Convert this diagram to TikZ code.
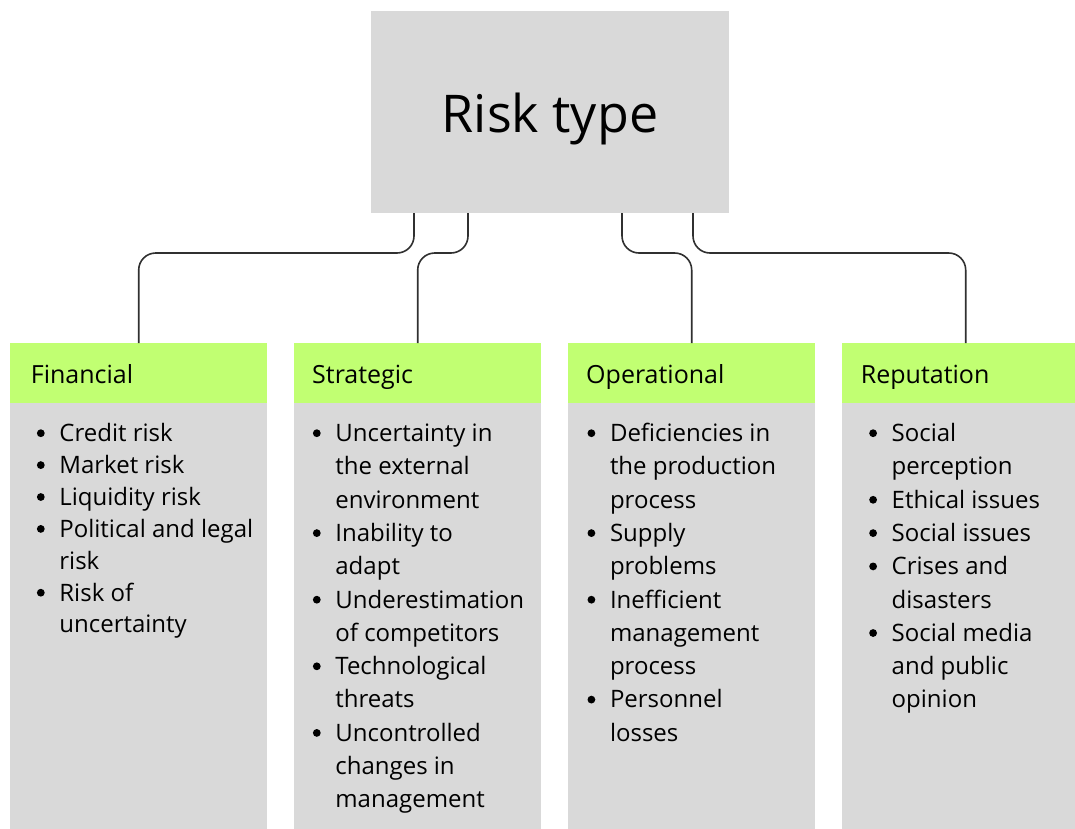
\documentclass[tikz,border=0pt]{standalone}
\usepackage{fontspec}
\setmainfont{Open Sans}
\definecolor{boxgray}{HTML}{D9D9D9}
\definecolor{limegreen}{HTML}{C1FF72}
\definecolor{wire}{HTML}{303030}
\newcommand\bl{\makebox[22.5pt][l]{\tikz[baseline=0pt]{\path (0pt,0pt); \fill[black] (3.9pt,8.3pt) circle[radius=3.9pt];}}}
\tikzset{
  titlebox/.style={fill=boxgray, minimum width=358pt, minimum height=202pt, inner sep=0pt,
    font=\fontsize{52}{58}\selectfont, text height=40pt, text depth=0pt},
  headbox/.style={fill=limegreen, anchor=north west, minimum height=60pt, inner sep=0pt,
    font=\fontsize{25}{30}\selectfont, text height=20pt, text depth=0pt, align=left},
  bodybox/.style={fill=boxgray, anchor=north west, minimum height=430pt, inner sep=0pt},
  listtext/.style={anchor=base west, inner sep=0pt, font=\fontsize{24}{33.3}\selectfont},
  conn/.style={draw=wire, line width=1.6pt, rounded corners=17pt}
}
\begin{document}
\begin{tikzpicture}[x=1pt, y=-1pt]
\useasboundingbox (0,0) rectangle (1075,828);
% title
\node[titlebox] (top) at (550,112) {Risk type};
% column boxes
\node[headbox, minimum width=257pt, text width=257pt] (fin) at (10,343) {\hspace*{20.7pt}Financial};
\node[bodybox, minimum width=257pt] (finbody) at (10,403) {};
\node[headbox, minimum width=247pt, text width=247pt] (str) at (294,343) {\hspace*{18pt}Strategic};
\node[bodybox, minimum width=247pt] (strbody) at (294,403) {};
\node[headbox, minimum width=247pt, text width=247pt] (ope) at (568,343) {\hspace*{18pt}Operational};
\node[bodybox, minimum width=247pt] (opebody) at (568,403) {};
\node[headbox, minimum width=247pt, text width=247pt] (rep) at (842,343) {\hspace*{18.7pt}Reputation};
\node[bodybox, minimum width=247pt] (repbody) at (842,403) {};
% lists
\node[listtext, font=\fontsize{24}{31.9}\selectfont] (finlist) at (36.7,441.5) {\begin{tabular}[t]{@{}l@{}l@{}}
\bl & Credit risk\\
\bl & Market risk\\
\bl & Liquidity risk\\
\bl & Political and legal\\
 & risk\\
\bl & Risk of\\
 & uncertainty
\end{tabular}};
\node[listtext] (strlist) at (312.7,441.5) {\begin{tabular}[t]{@{}l@{}l@{}}
\bl & Uncertainty in\\
 & the external\\
 & environment\\
\bl & Inability to\\
 & adapt\\
\bl & Underestimation\\
 & of competitors\\
\bl & Technological\\
 & threats\\
\bl & Uncontrolled\\
 & changes in\\
 & management
\end{tabular}};
\node[listtext] (opelist) at (587.3,441.5) {\begin{tabular}[t]{@{}l@{}l@{}}
\bl & Deficiencies in\\
 & the production\\
 & process\\
\bl & Supply\\
 & problems\\
\bl & Inefficient\\
 & management\\
 & process\\
\bl & Personnel\\
 & losses
\end{tabular}};
\node[listtext] (replist) at (869,441.5) {\begin{tabular}[t]{@{}l@{}l@{}}
\bl & Social\\
 & perception\\
\bl & Ethical issues\\
\bl & Social issues\\
\bl & Crises and\\
 & disasters\\
\bl & Social media\\
 & and public\\
 & opinion
\end{tabular}};
% connectors
\coordinate (bus) at (0,253);
\draw[conn] ([xshift=-136pt]top.south) -- ([xshift=-136pt]top.south |- bus) -| (fin.north);
\draw[conn] ([xshift=-82pt]top.south) -- ([xshift=-82pt]top.south |- bus) -| (str.north);
\draw[conn] ([xshift=72pt]top.south) -- ([xshift=72pt]top.south |- bus) -| (ope.north);
\draw[conn] ([xshift=143pt]top.south) -- ([xshift=143pt]top.south |- bus) -| (rep.north);
\end{tikzpicture}
\end{document}
